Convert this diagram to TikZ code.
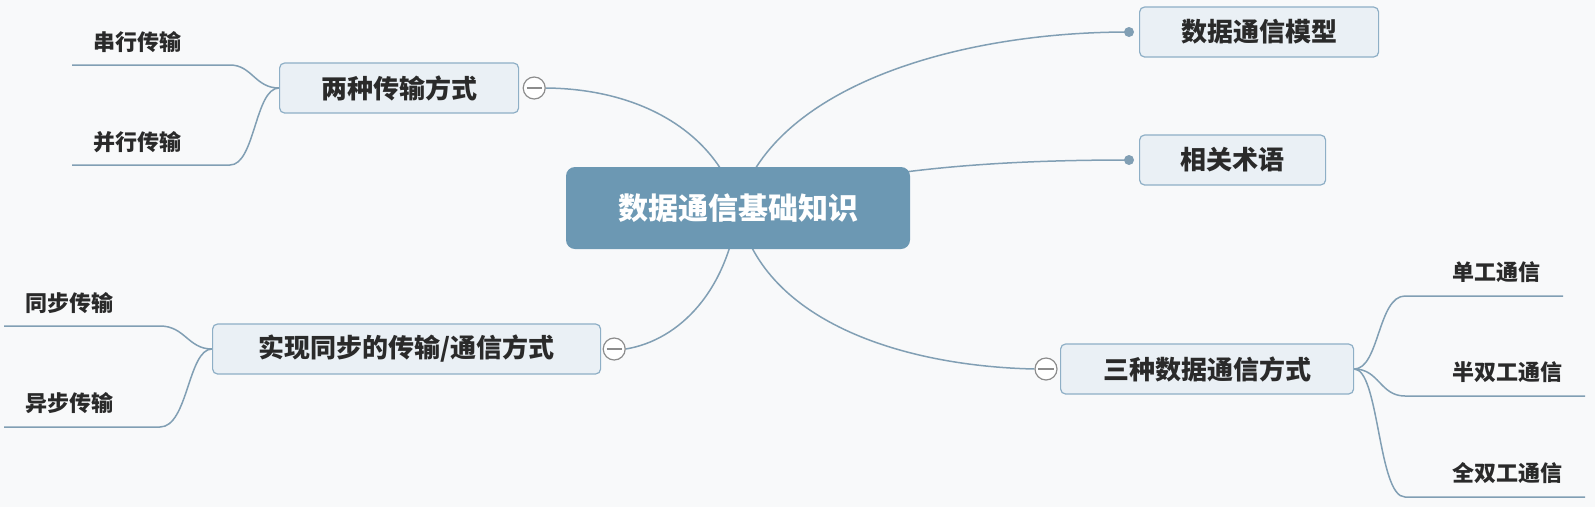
\documentclass[tikz,border=0pt]{standalone}
\usepackage{fontspec}
\setmainfont{Noto Sans CJK SC}
\usetikzlibrary{backgrounds}
\definecolor{bgc}{HTML}{F8F9FA}
\definecolor{rootfill}{HTML}{6C98B3}
\definecolor{subfill}{HTML}{EAF0F5}
\definecolor{subdraw}{HTML}{8EAFC6}
\definecolor{connc}{HTML}{819FB4}
\definecolor{circc}{HTML}{8C8C8C}
\definecolor{txtc}{HTML}{2A2A2A}
\begin{document}
\begin{tikzpicture}[x=1pt,y=-1pt,
  conn/.style={draw=connc,line width=1.5pt},
  rootbox/.style={draw=none,fill=rootfill,rounded corners=9pt,minimum width=344pt,minimum height=82pt,inner sep=0pt,text=white,font=\fontsize{30}{30}\selectfont\bfseries},
  subbox/.style={draw=subdraw,line width=1.2pt,fill=subfill,rounded corners=5pt,minimum height=50pt,inner xsep=2pt,text=txtc,font=\fontsize{26}{26}\selectfont\bfseries},
  leaf/.style={inner sep=0pt,text=txtc,font=\fontsize{22}{22}\selectfont\bfseries},
  foldc/.style={circle,draw=circc,line width=1.2pt,fill=white,minimum size=22pt,inner sep=0pt},
  enddot/.style={circle,fill=connc,minimum size=10pt,inner sep=0pt}]
\useasboundingbox (0,0) rectangle (1595,507);

% main nodes
\node[rootbox] (root) at (738,208) {数据通信基础知识};
\node[subbox,anchor=west,minimum width=239pt] (liang) at (279,88) {两种传输方式};
\node[subbox,anchor=west,minimum width=388pt] (shixian) at (212,349) {实现同步的传输/通信方式};
\node[subbox,anchor=west,minimum width=293pt] (sanzhong) at (1060,369) {三种数据通信方式};
\node[subbox,anchor=west,minimum width=239pt] (moxing) at (1139,32) {数据通信模型};
\node[subbox,anchor=west,minimum width=186pt] (shuyu) at (1139,160) {相关术语};

% fold circles and end dots
\node[foldc] (foldA) at ([xshift=15pt]liang.east) {};
\node[foldc] (foldB) at ([xshift=13pt]shixian.east) {};
\node[foldc] (foldC) at ([xshift=-14pt]sanzhong.west) {};
\foreach \f in {foldA,foldB,foldC}{
  \draw[circc,line width=1.4pt] ([xshift=4pt]\f.west) -- ([xshift=-4pt]\f.east);
}
\node[enddot] (dotA) at ([xshift=-10pt]moxing.west) {};
\node[enddot] (dotB) at ([xshift=-10pt]shuyu.west) {};

% leaves
\node[leaf] (chuan) at (137,42) {串行传输};
\node[leaf] (bing) at (137,142) {并行传输};
\node[leaf] (tong) at (69,303) {同步传输};
\node[leaf] (yi) at (69,403) {异步传输};
\node[leaf,anchor=west] (dan) at (1452,272) {单工通信};
\node[leaf,anchor=west] (ban) at (1452,372) {半双工通信};
\node[leaf,anchor=west] (quan) at (1452,473) {全双工通信};

\coordinate (e1) at (72,65);
\coordinate (e2) at (72,165);
\coordinate (e3) at (4,326);
\coordinate (e4) at (4,427);
\coordinate (e5) at (1563,296);
\coordinate (e6) at (1585,396);
\coordinate (e7) at (1585,497);

\begin{scope}[on background layer]
\fill[bgc] (0,0) rectangle (1595,507);
% root connectors
\draw[conn] (root.center) .. controls (720,140) and (650,89) .. (foldA.east);
\draw[conn] (root.center) .. controls (770,90) and (950,32) .. (dotA.center);
\draw[conn] (root.center) .. controls (860,168) and (1000,160) .. (dotB.center);
\draw[conn] (root.center) .. controls (728,290) and (680,340) .. (foldB.east);
\draw[conn] (root.center) .. controls (760,320) and (900,366) .. (foldC.west);
% leaf connectors
\draw[conn] (liang.west) .. controls ([xshift=-24pt]liang.west) and (252,65) .. (230,65) -- (e1);
\draw[conn] (liang.west) .. controls ([xshift=-24pt]liang.west) and (255,165) .. (230,165) -- (e2);
\draw[conn] (shixian.west) .. controls ([xshift=-24pt]shixian.west) and (185,326) .. (160,326) -- (e3);
\draw[conn] (shixian.west) .. controls ([xshift=-24pt]shixian.west) and (188,427) .. (160,427) -- (e4);
\draw[conn] (sanzhong.east) .. controls ([xshift=25pt]sanzhong.east) and (1378,296) .. (1405,296) -- (e5);
\draw[conn] (sanzhong.east) .. controls ([xshift=25pt]sanzhong.east) and (1380,396) .. (1405,396) -- (e6);
\draw[conn] (sanzhong.east) .. controls ([xshift=25pt]sanzhong.east) and (1378,497) .. (1405,497) -- (e7);
\end{scope}
\end{tikzpicture}
\end{document}
